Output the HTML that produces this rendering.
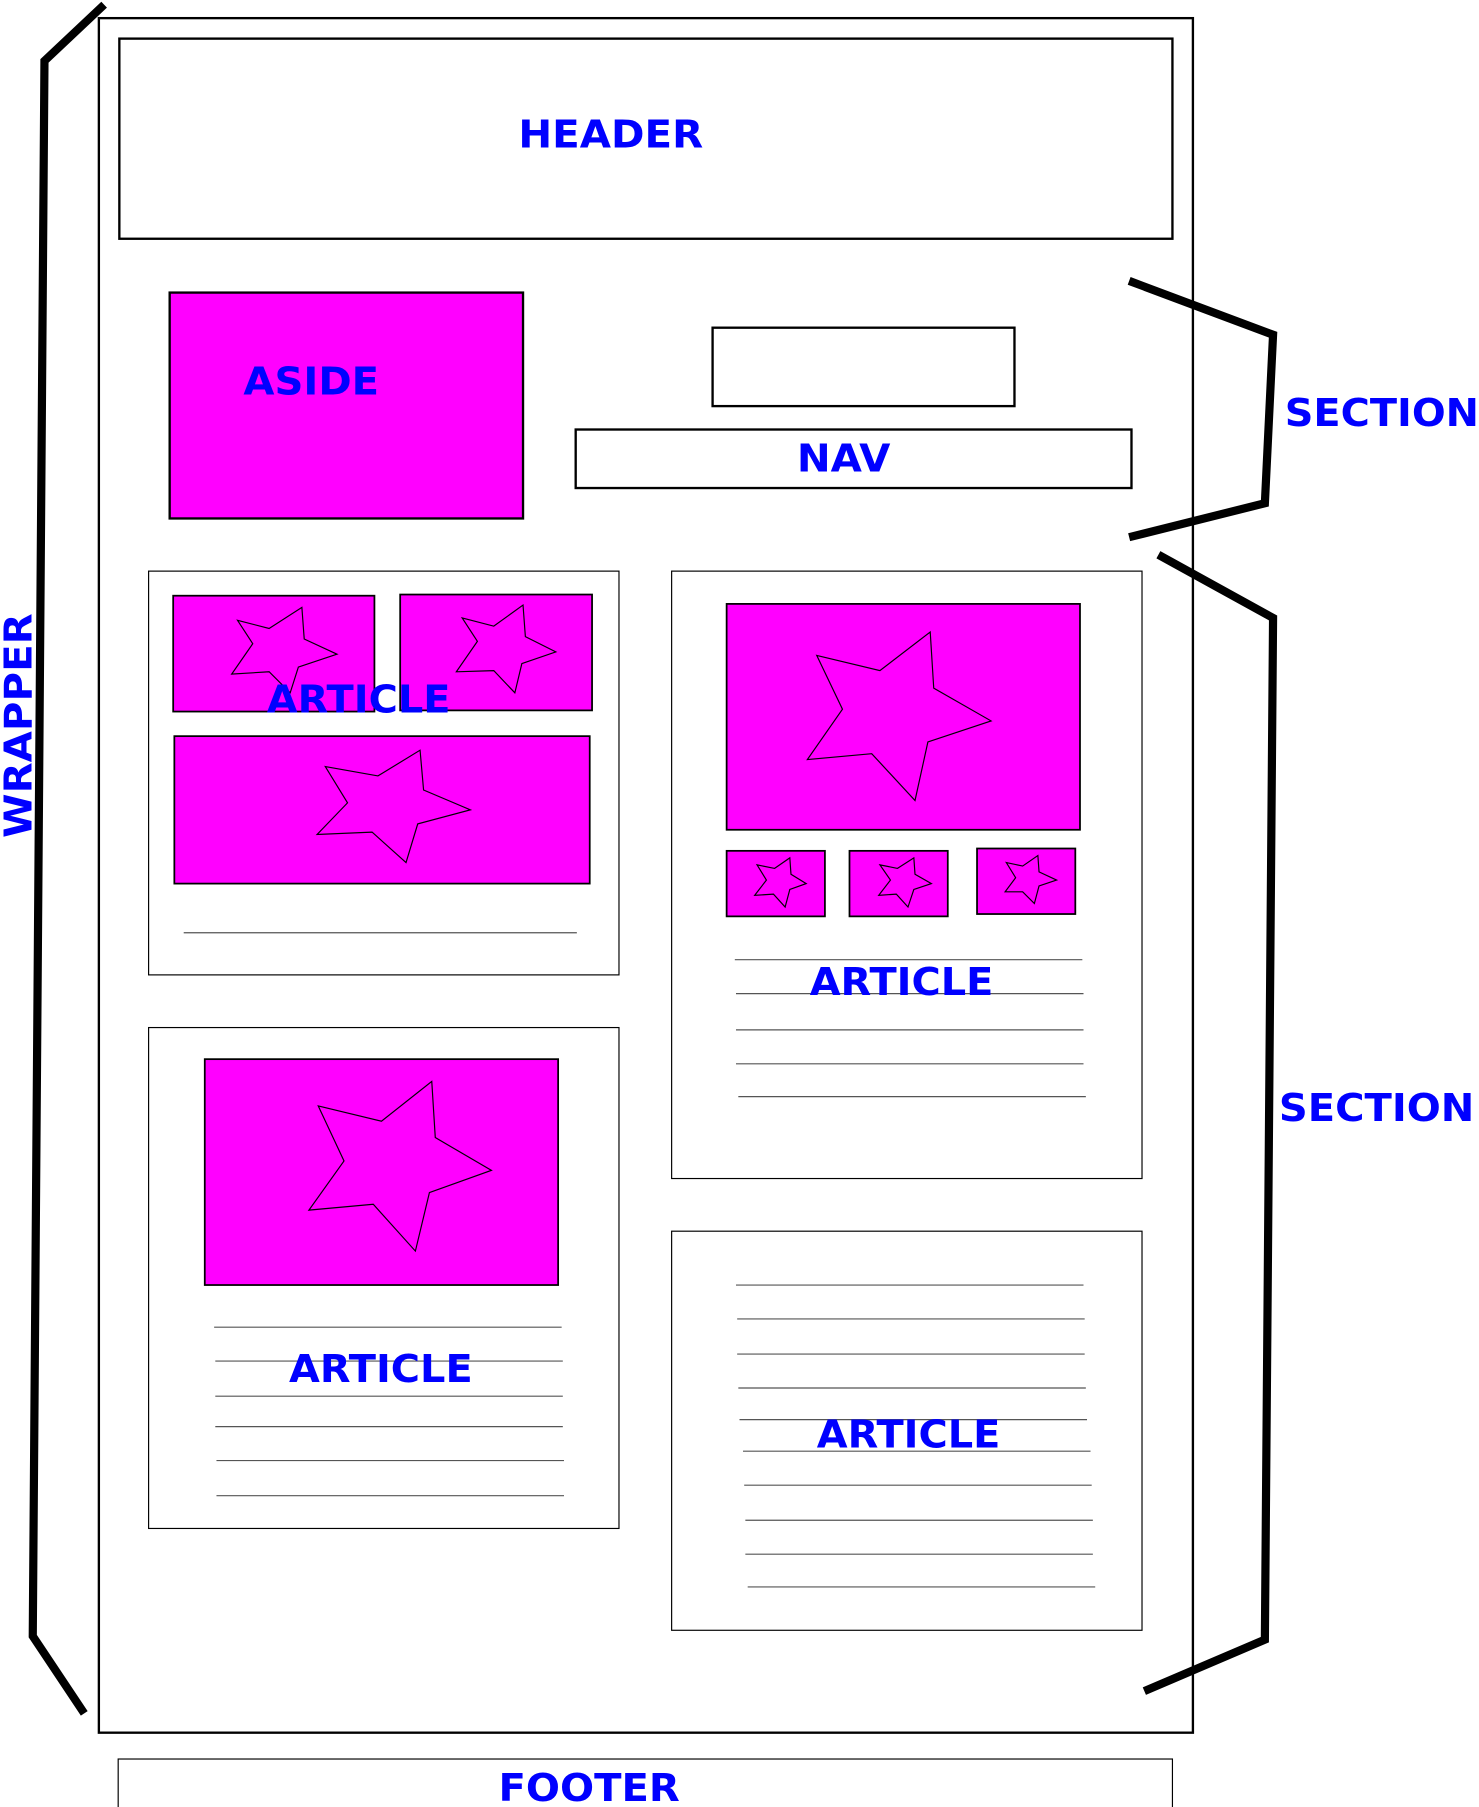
<!DOCTYPE html>
<html><head><meta charset="utf-8"><style>html,body{margin:0;padding:0;background:#fff}svg{display:block}</style></head>
<body>
<svg width="1479" height="1807" viewBox="0 0 1264 1544" preserveAspectRatio="none" xmlns="http://www.w3.org/2000/svg">
<g fill="none" stroke="#000">
<rect x="84.5" y="15.5" width="935" height="1465" stroke-width="2"/>
<rect x="102" y="33" width="900" height="171" stroke-width="2"/>
<rect x="145" y="250" width="302" height="193" fill="#ff00ff" stroke-width="2"/>
<rect x="609" y="280" width="258" height="67" stroke-width="2"/>
<rect x="492" y="367" width="475" height="50" stroke-width="2"/>
<rect x="127" y="488" width="402" height="345" stroke-width="1"/>
<rect x="574" y="488" width="402" height="519" stroke-width="1"/>
<rect x="127" y="878" width="402" height="428" stroke-width="1"/>
<rect x="574" y="1052" width="402" height="341" stroke-width="1"/>
<rect x="101" y="1503" width="901" height="42" stroke-width="1"/>
<g fill="#ff00ff" stroke-width="1.5">
<rect x="148" y="509" width="172" height="99"/>
<rect x="342" y="508" width="164" height="99"/>
<rect x="149" y="629" width="355" height="126"/>
<rect x="621" y="516" width="302" height="193"/>
<rect x="621" y="727" width="84" height="56"/>
<rect x="726" y="727" width="84" height="56"/>
<rect x="835" y="725" width="84" height="56"/>
<rect x="175" y="905" width="302" height="193"/>
</g>
<g stroke-width="1">
<polygon points="203,530 230,537 258,519 260,546 288,559 255,570 248,592 230,574 198,576 216,550"/>
<polygon points="395,528 422,535 447,517 449,544 475,557 446,567 440,592 422,573 390,574 408,548"/>
<polygon points="278,655 323,663 359,641 362,675 402,692 357,704 347,737 318,711 271,713 297,686"/>
<polygon points="698,560 752,573 795,540 798,588 847,616 793,634 782,684 745,644 690,649 720,606"/>
<polygon points="647,739 662,742 675,733 676,747 689,755 675,760 671,775 661,764 645,765 655,752"/>
<polygon points="752,739 767,742 781,733 782,747 796,755 781,760 776,775 766,764 751,765 761,752"/>
<polygon points="860,737 874,740 887,731 888,745 903,752 888,757 884,772 874,762 859,762 868,750"/>
<polygon points="272,945 326,958 369,924 372,972 420,1000 367,1019 355,1069 319,1029 264,1034 294,992"/>
</g>
<g stroke="#555" stroke-width="1">
<line x1="157" y1="797" x2="493" y2="797"/>
<line x1="628" y1="820" x2="925" y2="820"/>
<line x1="629" y1="849" x2="926" y2="849"/>
<line x1="629" y1="880" x2="926" y2="880"/>
<line x1="629" y1="909" x2="926" y2="909"/>
<line x1="631" y1="937" x2="928" y2="937"/>
<line x1="183" y1="1134" x2="480" y2="1134"/>
<line x1="184" y1="1163" x2="481" y2="1163"/>
<line x1="184" y1="1193" x2="481" y2="1193"/>
<line x1="184" y1="1219" x2="481" y2="1219"/>
<line x1="185" y1="1248" x2="482" y2="1248"/>
<line x1="185" y1="1278" x2="482" y2="1278"/>
<line x1="629" y1="1098" x2="926" y2="1098"/>
<line x1="630" y1="1127" x2="927" y2="1127"/>
<line x1="630" y1="1157" x2="927" y2="1157"/>
<line x1="631" y1="1186" x2="928" y2="1186"/>
<line x1="632" y1="1213" x2="929" y2="1213"/>
<line x1="635" y1="1240" x2="932" y2="1240"/>
<line x1="636" y1="1269" x2="933" y2="1269"/>
<line x1="637" y1="1299" x2="934" y2="1299"/>
<line x1="637" y1="1328" x2="934" y2="1328"/>
<line x1="639" y1="1356" x2="936" y2="1356"/>
</g>
<g stroke-width="7" stroke-linejoin="miter">
<polyline points="89,4 38,52 28,1398 72,1464"/>
<polyline points="965,240 1088,286 1081,430 965,459"/>
<polyline points="990,474 1088,528 1081,1401 978,1445"/>
</g>
</g>
<g fill="#0000ff" font-family="'DejaVu Sans','Liberation Sans',sans-serif" font-weight="bold" font-size="33">
<text x="443" y="126" textLength="158" lengthAdjust="spacingAndGlyphs">HEADER</text>
<text x="208" y="337" textLength="116" lengthAdjust="spacingAndGlyphs">ASIDE</text>
<text x="681" y="403" textLength="80" lengthAdjust="spacingAndGlyphs">NAV</text>
<text x="1098" y="364" textLength="166" lengthAdjust="spacingAndGlyphs">SECTION</text>
<text x="1093" y="958" textLength="167" lengthAdjust="spacingAndGlyphs">SECTION</text>
<text x="228" y="609" textLength="157" lengthAdjust="spacingAndGlyphs">ARTICLE</text>
<text x="692" y="850" textLength="157" lengthAdjust="spacingAndGlyphs">ARTICLE</text>
<text x="247" y="1181" textLength="157" lengthAdjust="spacingAndGlyphs">ARTICLE</text>
<text x="698" y="1237" textLength="157" lengthAdjust="spacingAndGlyphs">ARTICLE</text>
<text x="426" y="1539" textLength="155" lengthAdjust="spacingAndGlyphs">FOOTER</text>
<text transform="translate(27,716) rotate(-90)" textLength="192" lengthAdjust="spacingAndGlyphs">WRAPPER</text>
</g>
</svg>
</body></html>
